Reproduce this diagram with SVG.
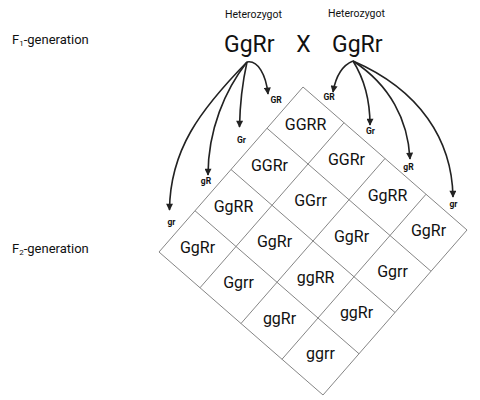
<svg xmlns="http://www.w3.org/2000/svg" width="480" height="400" viewBox="0 0 480 400">
<defs>
<style>
text{font-family:Roboto,"Liberation Sans",sans-serif;fill:#111}
.lbl{font-size:13px}
.het{font-size:10.5px}
.par{font-size:23px}
.gam{font-size:8.5px;font-weight:bold;text-anchor:middle}
.cell{font-size:16px;text-anchor:middle}
.grid line{stroke:#777;stroke-width:0.9}
.arr path{fill:none;stroke:#222;stroke-width:1.6}
</style>
<marker id="ah" viewBox="0 0 10 10" refX="9" refY="5" markerWidth="8" markerHeight="7" orient="auto" markerUnits="userSpaceOnUse">
<path d="M0,0 L10,5 L0,10 z" fill="#222"/>
</marker>
</defs>
<rect width="480" height="400" fill="#fff"/>

<g id="labels">
<text class="lbl" x="12" y="44">F<tspan font-size="8" dy="2">1</tspan><tspan dy="-2">-generation</tspan></text>
<text class="lbl" x="12" y="253">F<tspan font-size="8" dy="2">2</tspan><tspan dy="-2">-generation</tspan></text>
</g>

<g id="parent-left">
<text class="het" x="225" y="18">Heterozygot</text>
<text class="par" x="224" y="52">GgRr</text>
</g>
<text id="cross" class="par" x="303.5" y="52" text-anchor="middle">X</text>
<g id="parent-right">
<text class="het" x="328" y="17">Heterozygot</text>
<text class="par" x="332" y="52">GgRr</text>
</g>

<g id="connectors" class="arr">
<path d="M247,62 C258,60 266,75 268,94" marker-end="url(#ah)"/>
<path d="M247,62 C243,80 240,100 239.5,127" marker-end="url(#ah)"/>
<path d="M247,62 C225,90 208,130 208,175" marker-end="url(#ah)"/>
<path d="M247,62 C200,110 170,150 169.5,210" marker-end="url(#ah)"/>
<path d="M353,61 C343,65 336,75 333,92" marker-end="url(#ah)"/>
<path d="M353,61 C365,80 370,100 370,125" marker-end="url(#ah)"/>
<path d="M353,61 C390,85 408,120 410,159" marker-end="url(#ah)"/>
<path d="M353,61 C420,90 452,140 453,197" marker-end="url(#ah)"/>
</g>

<g id="gametes">
<text class="gam" x="276" y="102.5">GR</text>
<text class="gam" x="241.5" y="143">Gr</text>
<text class="gam" x="206" y="184">gR</text>
<text class="gam" x="171.5" y="225">gr</text>
<text class="gam" x="329" y="100">GR</text>
<text class="gam" x="370.5" y="134">Gr</text>
<text class="gam" x="408.5" y="170">gR</text>
<text class="gam" x="453.5" y="206.5">gr</text>
</g>

<g id="grid" class="grid">
<line x1="303" y1="87" x2="467" y2="230"/>
<line x1="267" y1="128.25" x2="431" y2="271.25"/>
<line x1="231" y1="169.5" x2="395" y2="312.5"/>
<line x1="195" y1="210.75" x2="359" y2="353.75"/>
<line x1="159" y1="252" x2="323" y2="395"/>
<line x1="303" y1="87" x2="159" y2="252"/>
<line x1="344" y1="122.75" x2="200" y2="287.75"/>
<line x1="385" y1="158.5" x2="241" y2="323.5"/>
<line x1="426" y1="194.25" x2="282" y2="359.25"/>
<line x1="467" y1="230" x2="323" y2="395"/>
</g>

<g id="cells">
<text class="cell" x="305.5" y="129.5">GGRR</text>
<text class="cell" x="346.5" y="165">GGRr</text>
<text class="cell" x="387.5" y="200.5">GgRR</text>
<text class="cell" x="428.5" y="236">GgRr</text>
<text class="cell" x="269.5" y="170.5">GGRr</text>
<text class="cell" x="310.5" y="206">GGrr</text>
<text class="cell" x="351.5" y="241.5">GgRr</text>
<text class="cell" x="392.5" y="277">Ggrr</text>
<text class="cell" x="233.5" y="211.5">GgRR</text>
<text class="cell" x="274.5" y="247">GgRr</text>
<text class="cell" x="315.5" y="282.5">ggRR</text>
<text class="cell" x="356.5" y="318">ggRr</text>
<text class="cell" x="197.5" y="252.5">GgRr</text>
<text class="cell" x="238.5" y="288">Ggrr</text>
<text class="cell" x="279.5" y="323.5">ggRr</text>
<text class="cell" x="320.5" y="359">ggrr</text>
</g>
</svg>
